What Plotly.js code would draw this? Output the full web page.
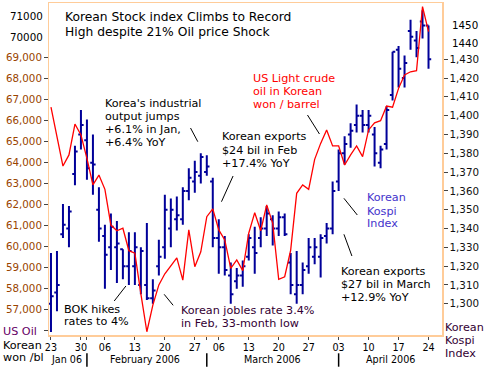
<!DOCTYPE html>
<html><head><meta charset="utf-8">
<script src="https://cdn.plot.ly/plotly-3.0.1.min.js"></script>
<style>html,body{margin:0;padding:0;background:#fff}#chart{width:500px;height:380px}</style>
</head><body><div id="chart"></div>
<script>
// Korean trading days (Jan 30 and Mar 1 2006 were market holidays)
const dates = ['2006-01-23','2006-01-24','2006-01-25','2006-01-26','2006-01-27','2006-01-31',
 '2006-02-01','2006-02-02','2006-02-03','2006-02-06','2006-02-07','2006-02-08','2006-02-09','2006-02-10',
 '2006-02-13','2006-02-14','2006-02-15','2006-02-16','2006-02-17','2006-02-20','2006-02-21','2006-02-22',
 '2006-02-23','2006-02-24','2006-02-27','2006-02-28','2006-03-02','2006-03-03','2006-03-06','2006-03-07',
 '2006-03-08','2006-03-09','2006-03-10','2006-03-13','2006-03-14','2006-03-15','2006-03-16','2006-03-17',
 '2006-03-20','2006-03-21','2006-03-22','2006-03-23','2006-03-24','2006-03-27','2006-03-28','2006-03-29',
 '2006-03-30','2006-03-31','2006-04-03','2006-04-04','2006-04-05','2006-04-06','2006-04-07','2006-04-10',
 '2006-04-11','2006-04-12','2006-04-13','2006-04-14','2006-04-17','2006-04-18','2006-04-19','2006-04-20',
 '2006-04-21','2006-04-24'];

// Korean Kospi index (right axis)
const kospiHigh  = [1327,1328,1353,1352,1384,1403,1398,1390,1362,1342,1348,1344,1329,1338,1338,1330,
 1343,1313,1334,1358,1356,1357,1362,1372,1376,1380,1379,1367,1345,1336,1322,1319,1323,1337,1341,1346,
 1352,1347,1349,1348,1327,1328,1322,1335,1335,1337,1343,1365,1382,1389,1396,1406,1403,1403,1394,1384,
 1405,1434,1437,1432,1451,1445,1456,1448];
const kospiLow   = [1285,1296,1335,1330,1363,1382,1366,1358,1333,1308,1318,1311,1313,1310,1310,1305,
 1302,1300,1315,1324,1330,1339,1342,1355,1359,1364,1368,1330,1316,1315,1300,1308,1309,1323,1316,1330,
 1336,1331,1336,1336,1305,1300,1305,1316,1321,1314,1332,1337,1360,1374,1383,1391,1391,1391,1373,1372,
 1382,1408,1415,1415,1435,1431,1441,1425];
const kospiOpen  = [1300,1306,1337,1340,1369,1390,1387,1375,1350,1336,1330,1330,1329,1320,1320,1310,
 1310,1303,1320,1330,1340,1345,1345,1360,1365,1368,1370,1365,1335,1330,1315,1312,1315,1325,1330,1335,
 1340,1345,1340,1346,1322,1305,1310,1320,1325,1325,1336,1340,1365,1380,1390,1395,1400,1395,1390,1375,
 1385,1411,1435,1420,1445,1440,1450,1448];
const kospiClose = [1304,1310,1342,1349,1381,1395,1372,1374,1340,1326,1341,1332,1320,1328,1330,1328,
 1303,1307,1325,1350,1350,1347,1360,1367,1370,1378,1373,1335,1330,1318,1305,1315,1320,1335,1327,1340,
 1348,1340,1346,1337,1310,1310,1318,1330,1330,1335,1340,1360,1380,1385,1392,1400,1395,1400,1380,1382,
 1403,1434,1425,1428,1442,1436,1448,1430];

// US light crude oil priced in Korean won per barrel (left axis)
const oilWon = [66650,65250,63840,64370,65840,65320,64210,62940,63410,62730,61030,60760,60880,59810,
 59690,57750,55950,57220,58180,58710,59110,59470,58410,60800,59050,59760,61430,61800,60800,60320,
 58970,59370,58860,60640,61620,60760,61990,61110,58450,58570,59840,62540,62940,62730,64160,64920,
 65560,64800,64800,63890,64370,64800,64290,65560,65900,66000,66700,66640,67540,68180,68330,68380,
 71430,70240];

const xTickDates = ['2006-01-23','2006-01-31','2006-02-01','2006-02-06','2006-02-13','2006-02-20',
 '2006-02-27','2006-03-02','2006-03-06','2006-03-13','2006-03-20','2006-03-27','2006-04-03',
 '2006-04-10','2006-04-17','2006-04-24'];
const xTickText = ['23','30','','06','13','20','27','','06','13','20','27','03','10','17','24'];
const monthStarts = ['2006-02-01','2006-03-02','2006-04-03'];
const monthLabels = ['Jan 06','February 2006','March 2006','April 2006'];

const oilTicks = [56000,57000,58000,59000,60000,61000,62000,63000,64000,65000,66000,67000,68000,69000];
const oilTickText = ['','57,000','58,000','59,000','60,000','61,000','62,000','63,000','64,000',
 '65,000','66,000','67,000','68,000','69,000'];
const kospiTicks = [1300,1310,1320,1330,1340,1350,1360,1370,1380,1390,1400,1410,1420,1430];
const kospiTickText = ['1,300','1,310','1,320','1,330','1,340','1,350','1,360','1,370','1,380',
 '1,390','1,400','1,410','1,420','1,430'];

const F = 'DejaVu Sans, Verdana, sans-serif';
const L = 49, R = 442.5, T = 3, B = 335;
const px = x => (x - L) / (R - L);
const py = y => (B - y) / (B - T);
function txt(t, x, y, color, size, anchor) {
  return {text: t, xref: 'paper', yref: 'paper', x: px(x), y: py(y),
    xanchor: anchor || 'left', yanchor: 'middle', showarrow: false, borderpad: 0,
    font: {family: F, size: size || 11.2, color: color || '#000'}};
}
function seg(x0, y0, x1, y1) {
  return {type: 'line', xref: 'paper', yref: 'paper', x0: px(x0), y0: py(y0), x1: px(x1), y1: py(y1),
    line: {color: '#000', width: 1}};
}

const annotations = [
  txt('Korean Stock index Climbs to Record', 64, 17.5, '#000', 12.3),
  txt('High despite 21% Oil price Shock', 64, 31.6, '#000', 12.3),
  txt("Korea's industrial", 104.3, 103.2), txt('output jumps', 104.3, 116.2),
  txt('+6.1% in Jan,', 104.3, 129.3), txt('+6.4% YoY', 104.3, 142.4),
  txt('Korean exports', 221.5, 136.8), txt('$24 bil in Feb', 221.5, 150.2), txt('+17.4% YoY', 221.5, 163.5),
  txt('US Light crude', 252.5, 78.3, '#FF0000'), txt('oil in Korean', 252.5, 91.2, '#FF0000'),
  txt('won / barrel', 252.5, 104.2, '#FF0000'),
  txt('Korean', 366.5, 197.8, '#4433CC'), txt('Kospi', 366.5, 211.2, '#4433CC'), txt('Index', 366.5, 223.8, '#4433CC'),
  txt('Korean exports', 340.5, 271.2), txt('$27 bil in March', 340.5, 284.5), txt('+12.9% YoY', 340.5, 297.6),
  txt('BOK hikes', 62.7, 309.2), txt('rates to 4%', 62.7, 321.8),
  txt('Korean jobles rate 3.4%', 180, 310.8, '#330033'), txt('in Feb, 33-month low', 180, 323.2, '#330033'),
  txt('71000', 43.7, 15.8, '#000', 10.3, 'right'), txt('70000', 43.7, 36.7, '#000', 10.3, 'right'),
  txt('1450', 451.3, 24.8, '#000', 10.3), txt('1440', 451.3, 43, '#000', 10.3),
  txt('US Oil', 1.7, 331.7, '#660066', 11.2), txt('Korean', 1.7, 345, '#000', 11.2), txt('won /bl', 1.7, 357.7, '#000', 11.2),
  txt('Korean', 445, 327.3, '#330033', 11.2), txt('Kospi', 445, 340.7, '#330033', 11.2), txt('Index', 445, 353.5, '#330033', 11.2),
  txt(monthLabels[0], 66.8, 359.8, '#000', 9.6, 'center'),
  txt(monthLabels[1], 145.3, 359.8, '#000', 9.6, 'center'),
  txt(monthLabels[2], 272.7, 359.8, '#000', 9.6, 'center'),
  txt(monthLabels[3], 390.5, 359.8, '#000', 9.6, 'center')
];

const shapes = [
  seg(190.7, 128, 198, 141.7), seg(233.3, 176, 221.7, 201.7), seg(307.8, 115, 319.8, 134),
  seg(344.3, 198.3, 357.7, 215), seg(344.3, 234.3, 352.3, 256), seg(126, 286, 114.3, 301),
  seg(164.3, 294.3, 173.3, 305.3)
].concat(monthStarts.map(d => ({type: 'line', xref: 'x', yref: 'paper',
  x0: dates.indexOf(d), x1: dates.indexOf(d), y0: py(353.3), y1: py(366.7),
  line: {color: '#000', width: 1.5}})));

const traces = [
  {type: 'ohlc', x: dates, open: kospiOpen, high: kospiHigh, low: kospiLow, close: kospiClose,
   yaxis: 'y', tickwidth: 0.45, hoverinfo: 'skip',
   increasing: {line: {color: '#000099', width: 2}}, decreasing: {line: {color: '#000099', width: 2}}},
  {type: 'scatter', mode: 'lines', x: dates, y: oilWon, yaxis: 'y2',
   line: {color: '#FF0000', width: 1.3}, hoverinfo: 'skip'}
];

const layout = {
  width: 500, height: 380, margin: {l: L, r: 500 - R, t: T, b: 380 - B},
  paper_bgcolor: '#fff', plot_bgcolor: '#fff', showlegend: false,
  font: {family: F, size: 10, color: '#000'},
  xaxis: {type: 'category', range: [-0.33, 65.25], rangeslider: {visible: false},
    tickmode: 'array', tickvals: xTickDates, ticktext: xTickText,
    ticks: 'outside', ticklen: 3, tickcolor: '#444', tickwidth: 1,
    tickfont: {family: F, size: 9.6, color: '#000'},
    showgrid: false, zeroline: false, showline: true, linecolor: '#FFCC99', linewidth: 1.5, mirror: true},
  yaxis: {side: 'right', range: [1283.4, 1459.9], tickmode: 'array', tickvals: kospiTicks, ticktext: kospiTickText,
    ticks: 'outside', ticklen: 4, tickcolor: '#444', tickfont: {family: F, size: 10.3, color: '#111'},
    showgrid: false, zeroline: false, showline: true, linecolor: '#FFCC99', linewidth: 1.5, mirror: true},
  yaxis2: {overlaying: 'y', side: 'left', range: [55795, 71605], tickmode: 'array',
    tickvals: oilTicks, ticktext: oilTickText,
    ticks: 'outside', ticklen: 4, tickcolor: '#444', tickfont: {family: F, size: 10.3, color: '#994400'},
    showgrid: false, zeroline: false, showline: false},
  annotations: annotations, shapes: shapes
};

Plotly.newPlot('chart', traces, layout, {staticPlot: true, displayModeBar: false});
</script></body></html>
